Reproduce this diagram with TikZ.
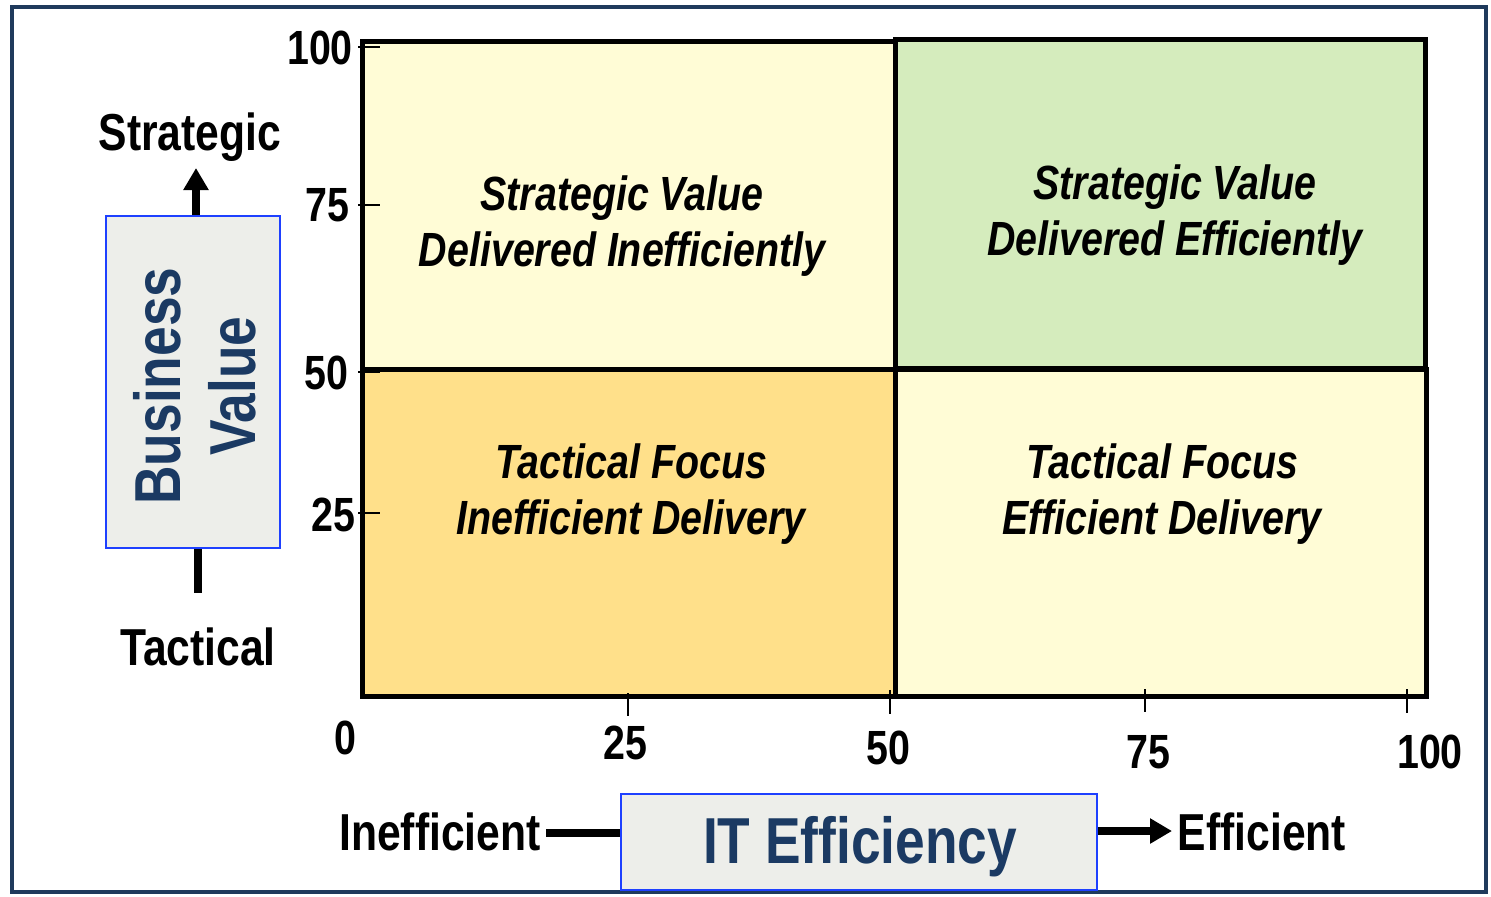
\documentclass[tikz,border=0pt]{standalone}
\usepackage{fontspec}
\setmainfont{Liberation Sans}
\newfontfamily\narrowsans[FakeStretch=0.82]{Liberation Sans}
\usetikzlibrary{arrows.meta}

\definecolor{framenavy}{HTML}{1F3A5C}
\definecolor{paleyellow}{HTML}{FFFCD6}
\definecolor{palegreen}{HTML}{D5ECBD}
\definecolor{goldyellow}{HTML}{FFE08A}
\definecolor{boxgrey}{HTML}{EDEEEA}
\definecolor{boxblue}{HTML}{1E40FF}
\definecolor{navytext}{HTML}{1B3A63}

\tikzset{
  quad/.style={draw=black, line width=2.5pt},
  quadtext/.style={align=center, inner sep=0pt,
    font=\narrowsans\bfseries\itshape\fontsize{24}{28}\selectfont},
  axisnum/.style={inner sep=0pt, font=\narrowsans\bfseries\fontsize{24}{28}\selectfont},
  tickmark/.style={draw=black, line width=1pt},
  endlabel/.style={inner sep=0pt, font=\narrowsans\bfseries\fontsize{26}{30}\selectfont},
  labelbox/.style={draw=boxblue, fill=boxgrey, line width=1pt, inner sep=0pt},
  boxtext/.style={inner sep=0pt, text=navytext, align=center,
    font=\narrowsans\bfseries\fontsize{32.5}{37.5}\selectfont},
  thickline/.style={draw=black, line width=4pt},
  bigtip/.style={-{Triangle[width=12pt,length=11pt]}}
}

\begin{document}
\begin{tikzpicture}[x=0.5pt,y=-0.5pt]
\useasboundingbox (0,0) rectangle (1491,896);

% outer frame
\draw[framenavy, line width=2pt] (12,7) rectangle (1486,892);

% quadrants
\draw[quad, fill=paleyellow] (362,41) rectangle (895,369);
\draw[quad, fill=goldyellow] (362,369) rectangle (895,696);
\draw[quad, fill=paleyellow] (895,369) rectangle (1426,696);
\draw[quad, fill=palegreen] (895,39) rectangle (1425,368);

\node[quadtext] (tl) at (622,226) {Strategic Value\\Delivered Inefficiently};
\node[quadtext] (tr) at (1175,215) {Strategic Value\\Delivered Efficiently};
\node[quadtext] (bl) at (631,494) {Tactical Focus\\Inefficient Delivery};
\node[quadtext] (br) at (1162,494) {Tactical Focus\\Efficient Delivery};

% vertical axis ticks and numbers
\draw[tickmark] (358,47) -- (380,47);
\draw[tickmark] (358,205) -- (380,205);
\draw[tickmark] (358,372) -- (380,372);
\draw[tickmark] (358,513) -- (380,513);
\node[axisnum] (y100) at (320,48) {100};
\node[axisnum] (y75) at (327,205) {75};
\node[axisnum] (y50) at (326,373) {50};
\node[axisnum] (y25) at (333,515) {25};

% horizontal axis ticks and numbers
\draw[tickmark] (628,693) -- (628,716);
\draw[tickmark] (890,690) -- (890,714);
\draw[tickmark] (1145,689) -- (1145,712);
\draw[tickmark] (1407,689) -- (1407,713);
\node[axisnum] (x0) at (345,738) {0};
\node[axisnum] (x25) at (625,743) {25};
\node[axisnum] (x50) at (888,748) {50};
\node[axisnum] (x75) at (1148,752) {75};
\node[axisnum] (x100) at (1430,752) {100};

% vertical axis label box
\node[labelbox, minimum width=87pt, minimum height=166pt] (bv) at (193,382) {};
\node[boxtext, rotate=90] (bvtext) at (195,386) {Business\\Value};
\node[endlabel] (strat) at (190,137) {Strategic};
\node[endlabel] (tact) at (198,647) {Tactical};
\coordinate (stratTip) at (196,168);
\coordinate (tactEnd) at (198,593);
\draw[thickline, bigtip] (stratTip |- bv.north) -- (stratTip);
\draw[thickline] (tactEnd |- bv.south) -- (tactEnd);

% horizontal axis label box
\node[labelbox, minimum width=238pt, minimum height=48pt] (ite) at (859,842) {};
\node[boxtext] (itetext) at (860,847) {IT Efficiency};
\node[endlabel] (ineff) at (440,832) {Inefficient};
\node[endlabel] (eff) at (1262,832) {Efficient};
\coordinate (ineffEnd) at (546,833);
\coordinate (effTip) at (1172,831);
\draw[thickline] (ineffEnd) -- (ineffEnd -| ite.west);
\draw[thickline, bigtip] (effTip -| ite.east) -- (effTip);
\end{tikzpicture}
\end{document}
